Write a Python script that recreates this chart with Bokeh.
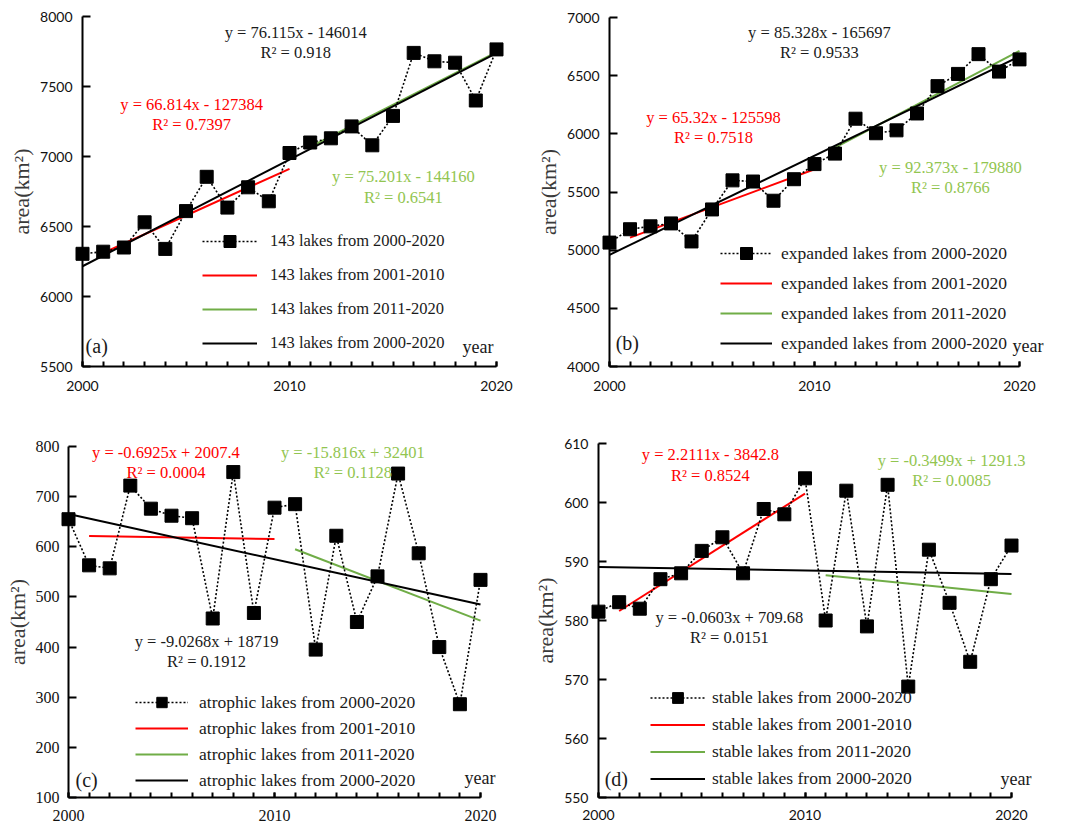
from bokeh.plotting import figure
from bokeh.layouts import column, row
from bokeh.models import FixedTicker, Range1d, Legend, LegendItem, Label
from bokeh.embed import file_html
from bokeh.resources import INLINE

# ---------------- data ----------------
years = list(range(2000, 2021))
trend_starts = [2001, 2011, 2000]
trend_ends = [2010, 2020, 2020]

area_a = [6305, 6320, 6350, 6530, 6340, 6610, 6855, 6635, 6780, 6680, 7025,
          7100, 7130, 7215, 7080, 7290, 7740, 7680, 7670, 7400, 7765]
slopes_a = [66.814, 75.201, 76.115]
intercepts_a = [-127384, -144160, -146014]
r2_a = [0.7397, 0.6541, 0.918]
labels_a = ["143 lakes from 2000-2020", "143 lakes from 2001-2010",
            "143 lakes from 2011-2020", "143 lakes from 2000-2020"]
yticks_a = [5500, 6000, 6500, 7000, 7500, 8000]

area_b = [5065, 5180, 5205, 5230, 5075, 5350, 5600, 5590, 5425, 5610, 5740,
          5830, 6130, 6005, 6030, 6175, 6410, 6515, 6685, 6535, 6640]
slopes_b = [65.32, 92.373, 85.328]
intercepts_b = [-125598, -179880, -165697]
r2_b = [0.7518, 0.8766, 0.9533]
labels_b = ["expanded lakes from 2000-2020", "expanded lakes from 2001-2020",
            "expanded lakes from 2011-2020", "expanded lakes from 2000-2020"]
yticks_b = [4000, 4500, 5000, 5500, 6000, 6500, 7000]

area_c = [655, 563, 557, 722, 676, 662, 657, 457, 749, 468, 678,
          685, 395, 622, 450, 541, 746, 587, 400, 286, 534]
slopes_c = [-0.6925, -15.816, -9.0268]
intercepts_c = [2007.4, 32401, 18719]
r2_c = [0.0004, 0.1128, 0.1912]
labels_c = ["atrophic lakes from 2000-2020", "atrophic lakes from 2001-2010",
            "atrophic lakes from 2011-2020", "atrophic lakes from 2000-2020"]
yticks_c = [100, 200, 300, 400, 500, 600, 700, 800]

area_d = [581.5, 583.1, 582, 587, 588, 591.8, 594.1, 588, 598.9, 598, 604.1,
          580, 602, 579, 603, 568.8, 592, 583, 573, 587, 592.7]
slopes_d = [2.2111, -0.3499, -0.0603]
intercepts_d = [-3842.8, 1291.3, 709.68]
r2_d = [0.8524, 0.0085, 0.0151]
labels_d = ["stable lakes from 2000-2020", "stable lakes from 2001-2010",
            "stable lakes from 2011-2020", "stable lakes from 2000-2020"]
yticks_d = [550, 560, 570, 580, 590, 600, 610]

xticks_major = [2000, 2010, 2020]

# ---------------- style ----------------
RED = "#ff0000"
GREEN_LINE = "#70ad47"
GREEN_TEXT = "#92c550"
BLACK = "#000000"
SERIF = "Liberation Serif"


def eq_text(s, b):
    sign = "-" if b < 0 else "+"
    return f"y = {s:g}x {sign} {abs(b):g}"


def span_range(p0, v0, p1, v1, length):
    """Range so that value v0 sits at pixel p0 and v1 at pixel p1."""
    k = (v1 - v0) / (p1 - p0)
    a = v0 - p0 * k
    b = v0 + (length - p0) * k
    return (a, b)


def make_panel(area, slopes, intercepts, r2, labels, yticks, tag, cfg):
    ymin, ymax = yticks[0], yticks[-1]
    W, H = cfg["width"], cfg["height"]
    x0, x1 = span_range(cfg["x2000"], 2000, cfg["x2020"], 2020, W)
    ytop, ybot = span_range(cfg["ytop"], ymax, cfg["ybot"], ymin, H)
    p = figure(width=W, height=H, x_range=Range1d(x0, x1),
               y_range=Range1d(ybot, ytop),
               output_backend="svg", toolbar_location=None,
               min_border_left=0, min_border_right=0,
               min_border_top=0, min_border_bottom=0)
    p.xgrid.visible = False
    p.ygrid.visible = False
    p.outline_line_color = None
    p.background_fill_color = "white"
    p.border_fill_color = "white"

    tick_font = cfg["tick_font"]
    tick_size = cfg["tick_size"]
    xa = p.xaxis[0]
    xa.fixed_location = ymin
    xa.ticker = FixedTicker(ticks=xticks_major, minor_ticks=years)
    xa.bounds = (2000, 2020)
    xa.axis_line_width = 2
    xa.axis_line_color = BLACK
    xa.major_tick_in = 5
    xa.major_tick_out = 0
    xa.minor_tick_in = 5
    xa.minor_tick_out = 0
    xa.major_tick_line_width = 2
    xa.minor_tick_line_width = 2
    xa.major_label_standoff = cfg["xstand"]
    xa.major_label_text_font = tick_font
    xa.major_label_text_font_size = tick_size
    xa.major_label_text_color = "#111111"

    ya = p.yaxis[0]
    ya.fixed_location = 2000
    ya.ticker = FixedTicker(ticks=yticks)
    ya.bounds = (ymin, ymax)
    ya.axis_line_width = 2
    ya.axis_line_color = BLACK
    ya.major_tick_in = 8
    ya.major_tick_out = 0
    ya.minor_tick_in = 0
    ya.minor_tick_out = 0
    ya.major_tick_line_width = 2
    ya.major_label_standoff = cfg["ystand"]
    ya.major_label_text_font = tick_font
    ya.major_label_text_font_size = tick_size
    ya.major_label_text_color = "#111111"
    ya.axis_label = "area(km²)"
    ya.axis_label_text_font = SERIF
    ya.axis_label_text_font_size = "22px"
    ya.axis_label_text_font_style = "normal"
    ya.axis_label_text_color = "#3a3a3a"
    ya.axis_label_standoff = 3

    colors = [RED, GREEN_LINE, BLACK]
    trend_renderers = []
    for s, b, xs, xe, c in zip(slopes, intercepts, trend_starts, trend_ends, colors):
        r = p.line([xs, xe], [s * xs + b, s * xe + b], line_color=c, line_width=2)
        trend_renderers.append(r)

    sl = p.line(years, area, line_color=BLACK, line_width=1.6, line_dash="2 2")
    sm = p.scatter(years, area, marker="square", size=13, fill_color=BLACK,
                   line_color=BLACK)

    gh = cfg["glyph_h"]
    legend = Legend(items=[
        LegendItem(label=labels[0], renderers=[sl, sm]),
        LegendItem(label=labels[1], renderers=[trend_renderers[0]]),
        LegendItem(label=labels[2], renderers=[trend_renderers[1]]),
        LegendItem(label=labels[3], renderers=[trend_renderers[2]]),
    ], location=cfg["legend_loc"], orientation="vertical",
        glyph_width=cfg["glyph_w"], glyph_height=gh, label_height=gh,
        spacing=cfg["spacing"], padding=0, margin=0,
        label_standoff=cfg["standoff"],
        border_line_alpha=0, background_fill_alpha=0,
        label_text_font=SERIF, label_text_font_size=cfg["legend_size"],
        label_text_color="#1a1a1a")
    p.add_layout(legend)

    text_colors = [RED, GREEN_TEXT, "#1a1a1a"]
    for i in range(3):
        for txt, yy in ((eq_text(slopes[i], intercepts[i]), cfg["eq_y"][i]),
                        (f"R² = {r2[i]:g}", cfg["r2_y"][i])):
            p.add_layout(Label(x=cfg["eq_x"][i], y=yy, text=txt,
                               text_align="center", text_baseline="middle",
                               text_font=SERIF, text_font_size="16.5px",
                               text_color=text_colors[i]))

    p.add_layout(Label(x=cfg["tag"][0], y=cfg["tag"][1], text=tag,
                       text_align="left", text_baseline="middle",
                       text_font=SERIF, text_font_size="20px",
                       text_color="#1a1a1a"))
    p.add_layout(Label(x=cfg["year"][0], y=cfg["year"][1], text="year",
                       text_align="left", text_baseline="middle",
                       text_font=SERIF, text_font_size="18px",
                       text_color="#1a1a1a"))
    return p


# pixel anchors (within each figure) of the axis ends, and layout settings
cfg_a = dict(width=530, height=418, x2000=82, x2020=496, ytop=16, ybot=366,
             xstand=14, ystand=10, tick_font="Lato", tick_size="14px",
             legend_loc=(202, 60), glyph_w=55, glyph_h=30, spacing=4, standoff=13,
             legend_size="16.5px",
             eq_x=[2005.27, 2015.5, 2010.3], eq_y=[7371, 6857, 7886],
             r2_y=[7229, 6707, 7743], tag=(2000.15, 5650), year=(2018.36, 5636))
cfg_b = dict(width=536, height=418, x2000=79, x2020=489, ytop=17, ybot=366,
             xstand=14, ystand=10, tick_font="Lato", tick_size="14px",
             legend_loc=(190, 60), glyph_w=52, glyph_h=30, spacing=0, standoff=9,
             legend_size="17.5px",
             eq_x=[2005.07, 2016.63, 2010.24], eq_y=[6140, 5711, 6871],
             r2_y=[5968, 5539, 6699], tag=(2000.3, 4198), year=(2019.66, 4180))
cfg_c = dict(width=530, height=412, x2000=68, x2020=480, ytop=28, ybot=379,
             xstand=12, ystand=9, tick_font=SERIF, tick_size="16px",
             legend_loc=(135, 37), glyph_w=53, glyph_h=26, spacing=0, standoff=11,
             legend_size="17.5px",
             eq_x=[2004.73, 2013.8, 2006.7], eq_y=[788, 788, 411],
             r2_y=[748, 748, 371], tag=(2000.34, 134), year=(2019.22, 138))
cfg_d = dict(width=536, height=412, x2000=68, x2020=481, ytop=25, ybot=379,
             xstand=12, ystand=10, tick_font="Lato", tick_size="14px",
             legend_loc=(120, 38), glyph_w=55, glyph_h=27, spacing=0, standoff=7,
             legend_size="17.5px",
             eq_x=[2005.42, 2017.1, 2006.34], eq_y=[608.1, 607.1, 580.5],
             r2_y=[604.6, 603.7, 577.1], tag=(2000.3, 553.2), year=(2019.47, 553.2))

pa = make_panel(area_a, slopes_a, intercepts_a, r2_a, labels_a, yticks_a, "(a)", cfg_a)
pb = make_panel(area_b, slopes_b, intercepts_b, r2_b, labels_b, yticks_b, "(b)", cfg_b)
pc = make_panel(area_c, slopes_c, intercepts_c, r2_c, labels_c, yticks_c, "(c)", cfg_c)
pd = make_panel(area_d, slopes_d, intercepts_d, r2_d, labels_d, yticks_d, "(d)", cfg_d)

layout = column(row(pa, pb), row(pc, pd))
open("out.html", "w").write(file_html(layout, INLINE))
